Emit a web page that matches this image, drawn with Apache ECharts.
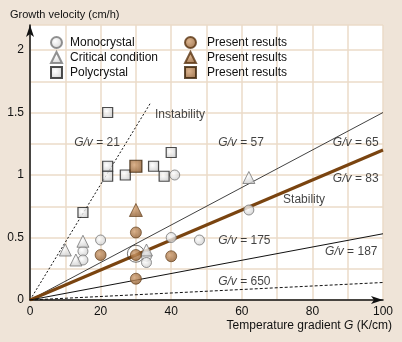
<!DOCTYPE html>
<html>
<head>
<meta charset="utf-8">
<script src="https://cdn.jsdelivr.net/npm/echarts@6/dist/echarts.min.js"></script>
<style>
  html, body { margin: 0; padding: 0; background: #EFE4D8; }
  #chart { width: 402px; height: 342px; }
</style>
</head>
<body>
<div id="chart"></div>
<script>
// data: [G (K/cm), v (cm/h)]
const monocrystal = [[41, 1.0], [62, 0.72], [20, 0.48], [15, 0.39], [15, 0.32], [33, 0.35], [33, 0.30], [40, 0.5], [48, 0.48]];
const critical = [[62, 0.98], [10, 0.4], [15, 0.47], [13, 0.32], [33, 0.4]];
const polycrystal = [[22, 1.5], [15, 0.7], [22, 1.07], [22, 0.99], [27, 1.0], [35, 1.07], [38, 0.99], [40, 1.18]];
const presentCircle = [[30, 0.54], [20, 0.36], [30, 0.36], [40, 0.35], [30, 0.17]];
const presentTriangle = [[30, 0.72]];
const presentSquare = [[30, 1.07]];
const ringed = [[30, 0.37]];

// G/v lines: end points
const line21 = [[0, 0], [34, 1.57]];
const line65 = [[0, 0], [100, 1.5]];
const line83 = [[0, 0], [100, 1.2]];
const line187 = [[0, 0], [100, 0.53]];
const line650 = [[0, 0], [100, 0.14]];

// annotations [text, G, v] (left edge, vertical centre)
const notes = [
    ['{i|G/v} = 21', 12.5, 1.256],
    ['Instability', 35.4, 1.48],
    ['{i|G/v} = 57', 53.3, 1.256],
    ['{i|G/v} = 65', 85.8, 1.256],
    ['{i|G/v} = 83', 85.8, 0.968],
    ['Stability', 71.7, 0.8],
    ['{i|G/v} = 175', 53.3, 0.472],
    ['{i|G/v} = 187', 83.6, 0.384],
    ['{i|G/v} = 650', 53.3, 0.144]
];

const font = 'Liberation Sans';
const grey = new echarts.graphic.RadialGradient(0.4, 0.4, 0.7, [
    { offset: 0, color: '#ffffff' }, { offset: 1, color: '#c4c4c4' }
]);
const brown = new echarts.graphic.RadialGradient(0.4, 0.4, 0.7, [
    { offset: 0, color: '#d2a071' }, { offset: 1, color: '#855326' }
]);

const lineStyleOf = (width, color, type) => ({
    type: 'line', showSymbol: false, symbol: 'none', silent: true, z: 1,
    lineStyle: { width, color, type }
});

let chart = echarts.init(document.getElementById('chart'));
chart.setOption({
    animation: false,
    backgroundColor: '#EFE4D8',
    textStyle: { fontFamily: font },
    grid: { left: 30, right: 19, top: 25, bottom: 42, show: true, backgroundColor: '#fff', borderWidth: 0 },
    legend: [
        {
            orient: 'vertical', left: 50, top: 36, padding: 0, itemGap: 2, itemWidth: 11, itemHeight: 11,
            selectedMode: false,
            textStyle: { fontFamily: font, fontSize: 12, color: '#111', padding: [0, 0, 0, 3] },
            data: ['Monocrystal', 'Critical condition', 'Polycrystal']
        },
        {
            orient: 'vertical', left: 184, top: 36, padding: 0, itemGap: 2, itemWidth: 11, itemHeight: 11,
            selectedMode: false,
            textStyle: { fontFamily: font, fontSize: 12, color: '#111', padding: [0, 0, 0, 6] },
            formatter: () => 'Present results',
            data: ['pc', 'pt', 'ps']
        }
    ],
    xAxis: {
        type: 'value', min: 0, max: 100, interval: 10,
        axisLine: { lineStyle: { color: '#111', width: 1.5 }, symbol: ['none', 'arrow'], symbolSize: [6, 12] },
        axisTick: { show: false },
        splitLine: { lineStyle: { color: '#EBDBC9', width: 1.5 } },
        axisLabel: {
            fontSize: 12, color: '#111', margin: 6,
            formatter: v => (v % 20 === 0 ? String(v) : '')
        }
    },
    yAxis: {
        type: 'value', min: 0, max: 2.2, interval: 0.25,
        axisLine: { show: true, lineStyle: { color: '#111', width: 1.5 }, symbol: ['none', 'arrow'], symbolSize: [6, 12] },
        axisTick: { show: false },
        splitLine: { lineStyle: { color: '#EBDBC9', width: 1.5 } },
        axisLabel: {
            fontSize: 12, color: '#111', margin: 6,
            formatter: v => (Math.abs(v * 2 - Math.round(v * 2)) < 1e-6 && v <= 2 ? String(v) : '')
        }
    },
    graphic: [
        { type: 'text', left: 10, top: 9, style: { text: 'Growth velocity (cm/h)', font: '11px ' + font, fill: '#111' } },
        {
            type: 'text', right: 10, top: 320,
            style: {
                text: 'Temperature gradient {i|G} (K/cm)', font: '12px ' + font, fill: '#111',
                rich: { i: { fontStyle: 'italic', fontFamily: font, fontSize: 12 } }
            }
        }
    ],
    series: [
        { ...lineStyleOf(1, '#111', [2, 2]), data: line21 },
        { ...lineStyleOf(0.8, '#111', 'solid'), data: line65 },
        { ...lineStyleOf(3, '#7A4410', 'solid'), data: line83 },
        { ...lineStyleOf(1, '#111', 'solid'), data: line187 },
        { ...lineStyleOf(1, '#111', [3, 2]), data: line650 },
        {
            type: 'scatter', silent: true, symbolSize: 0, z: 2,
            data: notes.map(n => ({ value: [n[1], n[2]], name: n[0] })),
            label: {
                show: true, position: 'right', distance: 0,
                formatter: p => p.name,
                fontFamily: font, fontSize: 12, color: '#111',
                rich: { i: { fontStyle: 'italic', fontFamily: font, fontSize: 12, color: '#111' } }
            }
        },
        {
            name: 'ring', type: 'scatter', symbol: 'circle', symbolSize: 17, z: 3,
            itemStyle: { color: 'rgba(0,0,0,0)', borderColor: '#222', borderWidth: 0.8 },
            data: ringed
        },
        {
            name: 'Monocrystal', type: 'scatter', symbol: 'circle', symbolSize: 10, z: 4,
            itemStyle: { color: grey, borderColor: '#777', borderWidth: 1 },
            data: monocrystal
        },
        {
            name: 'Critical condition', type: 'scatter', symbol: 'triangle', symbolSize: 12, z: 4,
            itemStyle: { color: grey, borderColor: '#777', borderWidth: 1 },
            data: critical
        },
        {
            name: 'Polycrystal', type: 'scatter', symbol: 'rect', symbolSize: 10, z: 4,
            itemStyle: { color: grey, borderColor: '#222', borderWidth: 1.2 },
            data: polycrystal
        },
        {
            name: 'pc', type: 'scatter', symbol: 'circle', symbolSize: 11, z: 5,
            itemStyle: { color: brown, borderColor: '#5a3512', borderWidth: 0.8 },
            data: presentCircle
        },
        {
            name: 'pt', type: 'scatter', symbol: 'triangle', symbolSize: 13, z: 5,
            itemStyle: { color: brown, borderColor: '#5a3512', borderWidth: 0.8 },
            data: presentTriangle
        },
        {
            name: 'ps', type: 'scatter', symbol: 'rect', symbolSize: 12, z: 5,
            itemStyle: { color: brown, borderColor: '#3a2208', borderWidth: 1.2 },
            data: presentSquare
        }
    ]
});
</script>
</body>
</html>
